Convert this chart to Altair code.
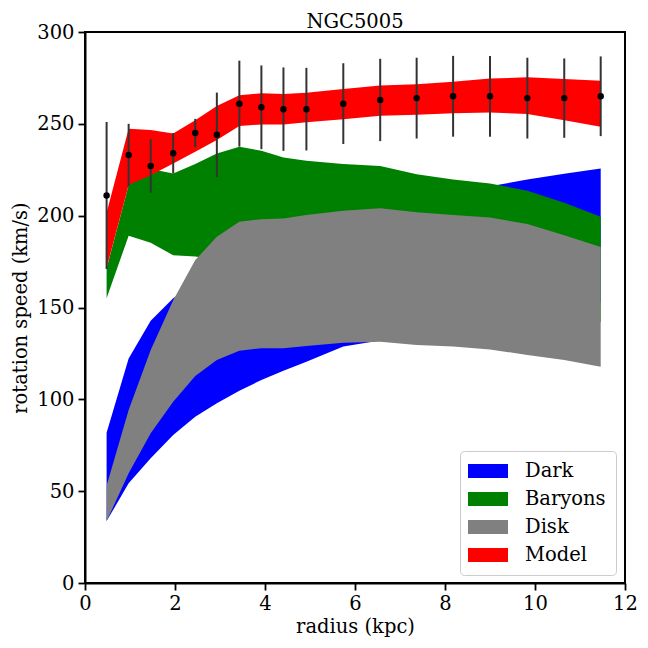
import altair as alt
import pandas as pd

# ---- data ----
r = [0.48, 0.97, 1.46, 1.96, 2.45, 2.93, 3.43, 3.92, 4.41, 4.92, 5.74, 6.56,
     7.37, 8.18, 9.0, 9.83, 10.65, 11.46]
v_obs = [211, 233, 227, 234, 245, 244, 261, 259, 258, 258, 261, 263,
         264, 265, 265, 264, 264, 265]
v_err = [40, 17, 14.5, 11, 7.7, 23, 23.4, 22.8, 22.7, 22.5, 22, 22.4,
         22, 22, 22, 22, 21.6, 21.7]

model_hi = [201.6, 247.3, 246.6, 244.8, 252, 259.7, 265.6, 266.6, 266.2, 266.9,
            268.9, 270.9, 271.6, 272.9, 274.7, 275.3, 274.4, 273.4]
model_lo = [171.5, 216.7, 222, 228.4, 234.8, 241.2, 248.8, 249.7, 249.7, 250.8,
            252.5, 254.4, 255, 255.7, 256.2, 255.3, 252, 248.4]

bary_hi = [171.3, 216.7, 225.4, 223, 228.1, 233.9, 237.5, 235.3, 231.7, 229.9,
           228.1, 227, 222.6, 219.7, 217.5, 213.6, 207, 199.4]
bary_lo = [155, 189.1, 185.3, 178.4, 177.7, 176, 174, 172, 170, 168,
           165, 162, 158, 155, 152, 149, 146, 142]

disk_hi = [53, 94.2, 126.8, 154, 175.8, 188.5, 196.7, 198.1, 198.5, 200.3,
           202.7, 204, 201.8, 200.3, 199, 195.4, 189.4, 183]
disk_lo = [33.7, 59.7, 81.5, 98.7, 112.7, 121.4, 126.5, 127.8, 127.8, 129,
           130.8, 131.4, 129.6, 128.7, 127.2, 124.1, 121.4, 117.8]

dark_hi = [81.8, 122.3, 142.8, 155, 163, 170, 177, 183, 188, 192,
           198, 203, 208, 212, 216, 219.7, 222.8, 225.7]
dark_lo = [33.7, 54.3, 67.9, 80.6, 90.5, 97.8, 104.7, 110.5, 115.6, 120.5,
           128.7, 132, 137, 141, 145, 148, 150, 153]

components = ["Dark", "Baryons", "Disk", "Model"]
comp_colors = ["#0000ff", "#008000", "#808080", "#ff0000"]

FONT = "DejaVu Serif"
FS = 19.5

def band(name, lo, hi):
    return pd.DataFrame({"r": r, "lo": lo, "hi": hi, "comp": name})

bands = {
    "Dark": band("Dark", dark_lo, dark_hi),
    "Baryons": band("Baryons", bary_lo, bary_hi),
    "Disk": band("Disk", disk_lo, disk_hi),
    "Model": band("Model", model_lo, model_hi),
}

obs = pd.DataFrame({
    "r": r,
    "v": v_obs,
    "vlo": [v - e for v, e in zip(v_obs, v_err)],
    "vhi": [v + e for v, e in zip(v_obs, v_err)],
})

xscale = alt.Scale(domain=[0, 12], nice=False, zero=False)
yscale = alt.Scale(domain=[0, 300], nice=False)

xaxis = alt.Axis(values=[0, 2, 4, 6, 8, 10, 12], title="radius (kpc)",
                 grid=False, format="d", labelFlush=False)
yaxis = alt.Axis(values=[0, 50, 100, 150, 200, 250, 300],
                 title="rotation speed (km/s)", grid=False, format="d",
                 labelFlush=False)

color = alt.Color(
    "comp:N",
    scale=alt.Scale(domain=components, range=comp_colors),
    legend=alt.Legend(title=None),
)

layers = []
for name in components:
    layers.append(
        alt.Chart(bands[name]).mark_area(opacity=1, interpolate="linear").encode(
            x=alt.X("r:Q", scale=xscale, axis=xaxis),
            y=alt.Y("lo:Q", scale=yscale, axis=yaxis),
            y2="hi:Q",
            color=color,
        )
    )

errbars = alt.Chart(obs).mark_rule(color="#333333", strokeWidth=2).encode(
    x=alt.X("r:Q", scale=xscale, axis=xaxis),
    y=alt.Y("vlo:Q", scale=yscale, axis=yaxis),
    y2="vhi:Q",
)
points = alt.Chart(obs).mark_circle(color="black", opacity=1, size=42).encode(
    x=alt.X("r:Q", scale=xscale, axis=xaxis),
    y=alt.Y("v:Q", scale=yscale, axis=yaxis),
)

chart = alt.layer(*layers, errbars, points).properties(
    width=540,
    height=551,
    title=alt.TitleParams("NGC5005", font=FONT, fontSize=FS, fontWeight="normal",
                          color="black", offset=5, frame="group", dy=15),
    autosize=alt.AutoSizeParams(type="none"),
    padding={"left": 77, "top": 24, "right": 15, "bottom": 57},
).configure_view(
    stroke="black", strokeWidth=2
).configure_axis(
    labelFont=FONT, labelFontSize=FS, labelColor="black",
    titleFont=FONT, titleFontSize=FS, titleFontWeight="normal", titleColor="black",
    tickSize=7, tickWidth=1.8, tickColor="black",
    domainColor="black", domainWidth=2, labelPadding=4,
).configure_axisX(
    titlePadding=5
).configure_axisY(
    titlePadding=6
).configure_legend(
    orient="none", legendX=375, legendY=419,
    labelFont=FONT, labelFontSize=FS, labelColor="black",
    symbolType="M-2,-0.7L2,-0.7L2,0.7L-2,0.7Z", symbolSize=400,
    symbolStrokeWidth=0, symbolOpacity=1,
    padding=10, rowPadding=8, labelOffset=27, symbolOffset=8,
    strokeColor="#cccccc", cornerRadius=4, fillColor="rgba(255,255,255,0.8)",
)

chart.save("out.html", embed_options={"renderer": "svg", "actions": False})
